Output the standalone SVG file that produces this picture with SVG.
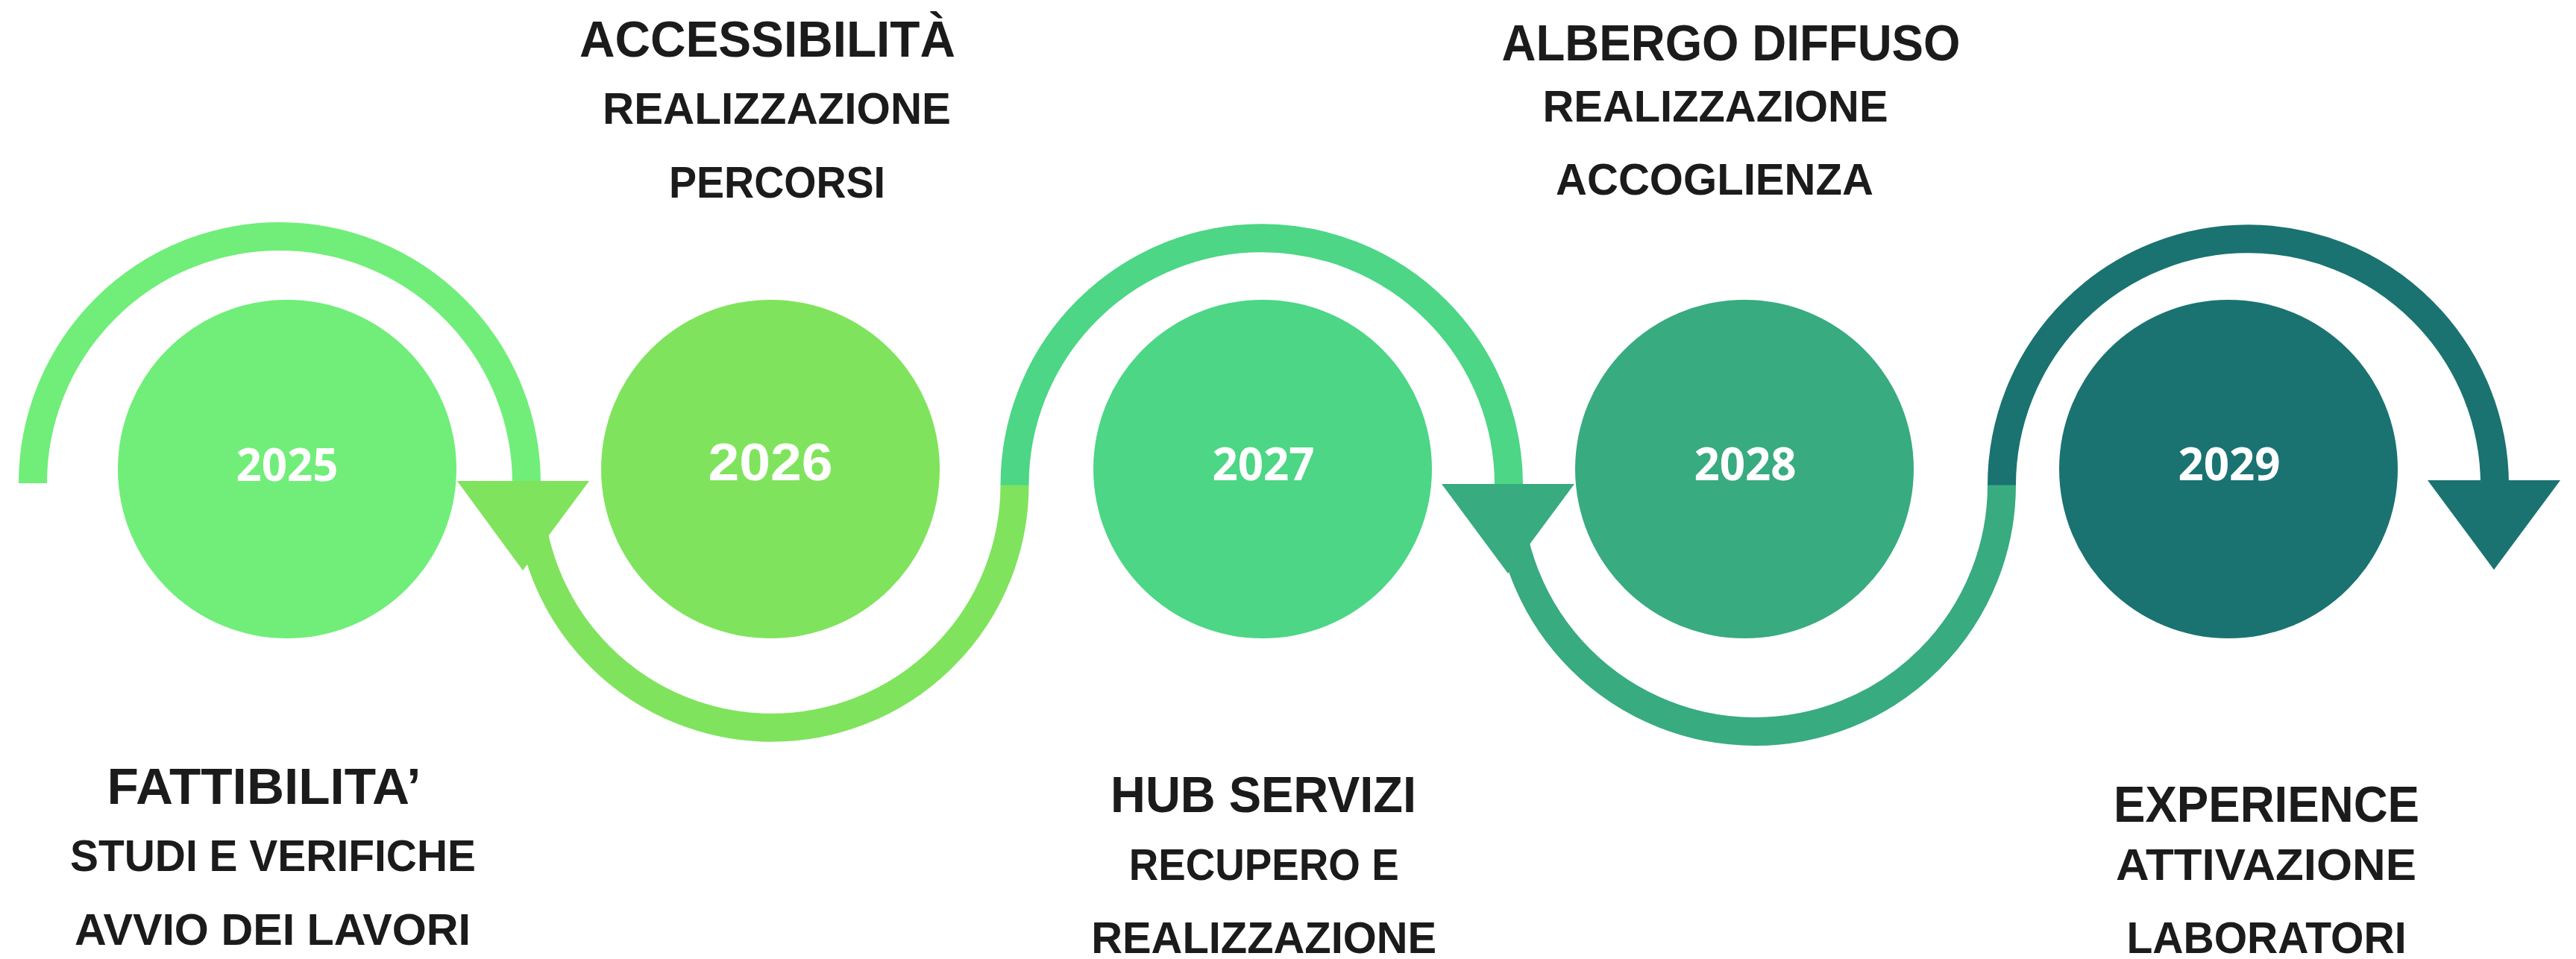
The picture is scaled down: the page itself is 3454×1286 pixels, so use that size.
<svg xmlns="http://www.w3.org/2000/svg" width="3454" height="1286" viewBox="0 0 3454 1286">
<style>
.bg{fill:#ffffff}
.arc{fill:none;stroke-width:38;stroke-linecap:butt}
.yr{fill:#ffffff;font-family:"Open Sans","Noto Sans",sans-serif;font-weight:700;font-size:60px;text-anchor:middle}
.yr2{fill:#ffffff;font-family:"Liberation Sans",Arial,sans-serif;font-weight:700;font-size:70px;text-anchor:middle}
.t{fill:#1b1b1b;font-family:"Liberation Sans",Arial,sans-serif;font-weight:700;text-anchor:middle}
.h{font-size:68px}
.s{font-size:60px}
.c1{fill:#70ee79}.k1{stroke:#70ee79}
.c2{fill:#80e35d}.k2{stroke:#80e35d}
.c3{fill:#4cd686}.k3{stroke:#4cd686}
.c4{fill:#38ab80}.k4{stroke:#38ab80}
.c5{fill:#1a7370}.k5{stroke:#1a7370}
</style>
<rect class="bg" x="0" y="0" width="3454" height="1286"/>
<g id="connectors">
  <path class="arc k1" d="M 44 648 A 331 331 0 0 1 706 648"/>
  <path class="arc k2" d="M 709 650 A 325.75 325.75 0 0 0 1360.5 650"/>
  <path class="arc k3" d="M 1360.5 650.5 A 331.25 331.25 0 0 1 2023 650.5"/>
  <path class="arc k4" d="M 2022 650 A 331 331 0 0 0 2684 650"/>
  <path class="arc k5" d="M 2684 650.5 A 330.5 330.5 0 0 1 3345 650.5"/>
  <polygon class="c2" points="613,645 790,645 701,765"/>
  <polygon class="c4" points="1933,649 2111,649 2022,769"/>
  <polygon class="c5" points="3255,644 3433,644 3344,764"/>
</g>
<g id="node-2025">
  <circle class="c1" cx="385" cy="629" r="227"/>
  <text class="yr" x="385" y="645">2025</text>
  <text class="t h" x="354" y="1078" textLength="421" lengthAdjust="spacingAndGlyphs">FATTIBILITA’</text>
  <text class="t s" x="366" y="1168" textLength="544" lengthAdjust="spacingAndGlyphs">STUDI E VERIFICHE</text>
  <text class="t s" x="365.5" y="1267" textLength="531" lengthAdjust="spacingAndGlyphs">AVVIO DEI LAVORI</text>
</g>
<g id="node-2026">
  <circle class="c2" cx="1033" cy="629" r="227"/>
  <text class="yr2" x="1033" y="644" textLength="167" lengthAdjust="spacingAndGlyphs">2026</text>
  <text class="t h" x="1029" y="76" textLength="504" lengthAdjust="spacingAndGlyphs">ACCESSIBILITÀ</text>
  <text class="t s" x="1041.5" y="166" textLength="467" lengthAdjust="spacingAndGlyphs">REALIZZAZIONE</text>
  <text class="t s" x="1042" y="265" textLength="290" lengthAdjust="spacingAndGlyphs">PERCORSI</text>
</g>
<g id="node-2027">
  <circle class="c3" cx="1693" cy="629" r="227"/>
  <text class="yr" x="1694" y="644">2027</text>
  <text class="t h" x="1694" y="1089" textLength="410" lengthAdjust="spacingAndGlyphs">HUB SERVIZI</text>
  <text class="t s" x="1694.7" y="1180" textLength="362" lengthAdjust="spacingAndGlyphs">RECUPERO E</text>
  <text class="t s" x="1694.7" y="1278" textLength="463" lengthAdjust="spacingAndGlyphs">REALIZZAZIONE</text>
</g>
<g id="node-2028">
  <circle class="c4" cx="2339" cy="629" r="227"/>
  <text class="yr" x="2340" y="644">2028</text>
  <text class="t h" x="2321" y="81" textLength="615" lengthAdjust="spacingAndGlyphs">ALBERGO DIFFUSO</text>
  <text class="t s" x="2300" y="163" textLength="463" lengthAdjust="spacingAndGlyphs">REALIZZAZIONE</text>
  <text class="t s" x="2299" y="261" textLength="426" lengthAdjust="spacingAndGlyphs">ACCOGLIENZA</text>
</g>
<g id="node-2029">
  <circle class="c5" cx="2988" cy="629" r="227"/>
  <text class="yr" x="2989" y="644">2029</text>
  <text class="t h" x="3039" y="1102" textLength="410" lengthAdjust="spacingAndGlyphs">EXPERIENCE</text>
  <text class="t s" x="3038.5" y="1180" textLength="403" lengthAdjust="spacingAndGlyphs">ATTIVAZIONE</text>
  <text class="t s" x="3039" y="1278" textLength="375" lengthAdjust="spacingAndGlyphs">LABORATORI</text>
</g>
</svg>
